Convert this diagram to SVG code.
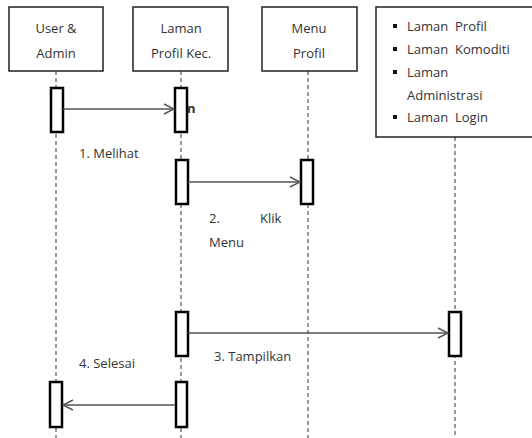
<svg xmlns="http://www.w3.org/2000/svg" width="532" height="438" viewBox="0 0 532 438">
  <style>
    .box { fill: #fff; stroke: #222; stroke-width: 1.5; }
    .life { stroke: #333; stroke-width: 1; stroke-dasharray: 4 3; fill: none; }
    .act { fill: #fff; stroke: #000; stroke-width: 2.5; }
    .msg { stroke: #555; stroke-width: 1.3; fill: none; marker-end: url(#open); }
    .t { font-family: "Open Sans", "Liberation Sans", sans-serif; font-size: 13px; fill: #333; }
    .c { text-anchor: middle; }
  </style>
  <defs>
    <marker id="open" viewBox="0 0 12 12" refX="11" refY="6" markerWidth="12" markerHeight="12" markerUnits="userSpaceOnUse" orient="auto">
      <path d="M1,1 L11,6 L1,11" fill="none" stroke="#555" stroke-width="1.4"/>
    </marker>
  </defs>
  <rect width="532" height="438" fill="#fff"/>

  <!-- lifelines -->
  <g id="lifelines">
    <line class="life" x1="56" y1="71" x2="56" y2="438"/>
    <line class="life" x1="181" y1="71" x2="181" y2="438"/>
    <line class="life" x1="308" y1="71" x2="308" y2="438"/>
    <line class="life" x1="455" y1="137" x2="455" y2="438"/>
  </g>

  <g id="user-admin">
    <rect class="box" x="9" y="7" width="94" height="64"/>
    <text class="t c" x="56" y="33">User &amp;</text>
    <text class="t c" x="56" y="58">Admin</text>
  </g>
  <g id="laman-profil-kec">
    <rect class="box" x="133" y="7" width="95" height="64"/>
    <text class="t c" x="181" y="33">Laman</text>
    <text class="t c" x="181" y="58">Profil Kec.</text>
  </g>
  <g id="menu-profil">
    <rect class="box" x="262" y="7" width="95" height="64"/>
    <text class="t c" x="309" y="33">Menu</text>
    <text class="t c" x="309" y="58">Profil</text>
  </g>
  <g id="pages">
    <rect class="box" x="376" y="7" width="160" height="130"/>
    <rect x="393" y="24" width="4" height="4" fill="#111"/>
    <text class="t" x="407" y="31" xml:space="preserve">Laman  Profil</text>
    <rect x="393" y="47" width="4" height="4" fill="#111"/>
    <text class="t" x="407" y="54" xml:space="preserve">Laman  Komoditi</text>
    <rect x="393" y="70" width="4" height="4" fill="#111"/>
    <text class="t" x="407" y="77">Laman</text>
    <text class="t" x="407" y="100">Administrasi</text>
    <rect x="393" y="115" width="4" height="4" fill="#111"/>
    <text class="t" x="407" y="122" xml:space="preserve">Laman  Login</text>
  </g>

  <!-- activation bars -->
  <g id="activations">
    <rect class="act" x="51" y="88" width="12" height="44"/>
    <rect class="act" x="175" y="88" width="12" height="44"/>
    <rect class="act" x="176" y="160" width="12" height="44"/>
    <rect class="act" x="301" y="160" width="12" height="44"/>
    <rect class="act" x="176" y="312" width="12" height="44"/>
    <rect class="act" x="449" y="312" width="12" height="44"/>
    <rect class="act" x="50" y="382" width="12" height="45"/>
    <rect class="act" x="176" y="382" width="11" height="45"/>
  </g>

  <!-- messages -->
  <g id="connectors">
    <line class="msg" x1="63" y1="109" x2="174" y2="109"/>
    <line class="msg" x1="188" y1="182" x2="300" y2="182"/>
    <line class="msg" x1="188" y1="333" x2="448" y2="333"/>
    <line class="msg" x1="175" y1="405" x2="63" y2="405"/>
  </g>

  <g id="labels">
    <text class="t" x="187" y="113" font-size="8" font-weight="bold" fill="#000">n</text>
    <text class="t" x="79" y="158">1. Melihat</text>
    <text class="t" x="209" y="223">2.</text>
    <text class="t" x="260" y="223">Klik</text>
    <text class="t" x="209" y="247">Menu</text>
    <text class="t" x="214" y="361">3. Tampilkan</text>
    <text class="t" x="79" y="368">4. Selesai</text>
  </g>
</svg>
